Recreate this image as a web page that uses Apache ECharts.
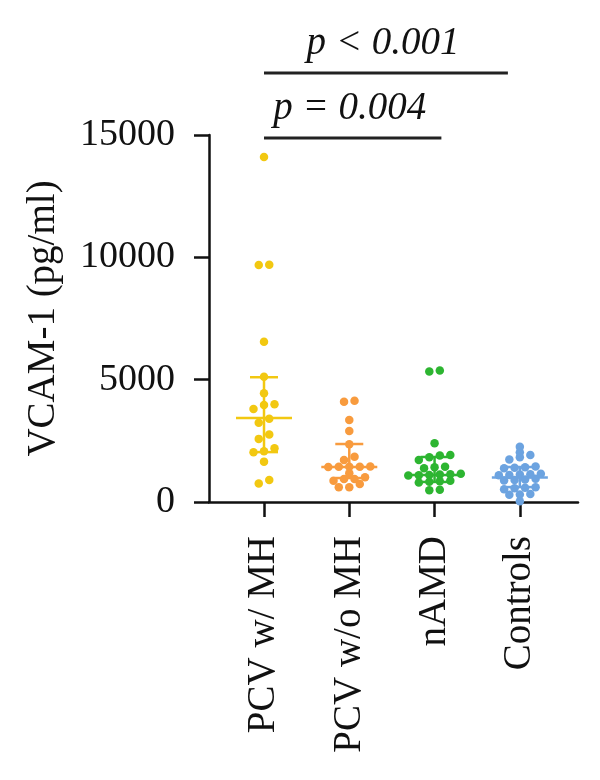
<!DOCTYPE html>
<html>
<head>
<meta charset="utf-8">
<script src="https://cdn.jsdelivr.net/npm/echarts@6/dist/echarts.min.js"></script>
<style>
  html, body { margin: 0; padding: 0; background: #fff; }
  #main { width: 600px; height: 780px; }
</style>
</head>
<body>
<div id="main"></div>
<script>
const groups = ['PCV w/ MH', 'PCV w/o MH', 'nAMD', 'Controls'];
const colors = ['#F2C811', '#F89B3E', '#2DB531', '#6CA3E0'];

// VCAM-1 (pg/ml)
const pcvMH = [14100, 9700, 9690, 6550, 5120, 4440, 4000, 3960, 3800, 3400, 3240,
  2760, 2580, 2200, 2070, 2030, 1650, 900, 760];
const pcvNoMH = [4140, 4100, 3350, 2900, 2360, 1850, 1720, 1450, 1440, 1440, 1430, 1440,
  1170, 1010, 940, 940, 870, 740, 600, 600];
const namd = [5370, 5330, 2400, 1920, 1900, 1830, 1720, 1440, 1420, 1380, 1150, 1130,
  1120, 1100, 1090, 1080, 870, 850, 830, 800, 500, 480];
const controls = [2260, 2030, 1920, 1830, 1740, 1450, 1420, 1400, 1380, 1150, 1130, 1120,
  1100, 1090, 950, 920, 900, 880, 600, 580, 560, 520, 330, 310, 300, 30];

// median and interquartile range
const medians = [3430, 1430, 1100, 1000];
const lowerQ = [2040, 980, 820, 610];
const upperQ = [5100, 2370, 1840, 1430];

const yTicks = [0, 5000, 10000, 15000];

const allGroups = [pcvMH, pcvNoMH, namd, controls];

const FONT = '"Liberation Serif", "Times New Roman", serif';
const gridLeft = 209, gridTop = 135, gridRight = 22, gridBottom = 278;
const xMin = -0.645, xMax = 3.682;
const pxPerCat = (600 - gridLeft - gridRight) / (xMax - xMin);

// Prism-like dot layout: values close together share a row, spread around the centre
function rowLayout(vals, g) {
  const sorted = vals.slice().sort((a, b) => a - b);
  const rows = [];
  sorted.forEach(v => {
    const last = rows[rows.length - 1];
    if (last && v - last[0] <= 200) last.push(v);
    else rows.push([v]);
  });
  const out = [];
  const gap = 10.5 / pxPerCat;
  rows.forEach(r => {
    r.forEach((v, i) => out.push([g + (i - (r.length - 1) / 2) * gap, v]));
  });
  return out;
}

const chart = echarts.init(document.getElementById('main'));

const scatterSeries = allGroups.map((vals, g) => ({
  type: 'scatter',
  name: groups[g],
  symbolSize: 8.5,
  itemStyle: { color: colors[g], opacity: 1 },
  data: rowLayout(vals, g),
  z: 2
}));

const barSeries = {
  type: 'custom',
  z: 3,
  data: groups.map((n, g) => [g, medians[g], lowerQ[g], upperQ[g]]),
  renderItem: function (params, api) {
    const g = api.value(0);
    const col = colors[g];
    const mw = 28 / pxPerCat, cw = 14 / pxPerCat;
    const st = { stroke: col, lineWidth: 2.5 };
    const m1 = api.coord([g - mw, api.value(1)]), m2 = api.coord([g + mw, api.value(1)]);
    const lo = api.coord([g, api.value(2)]), hi = api.coord([g, api.value(3)]);
    const l1 = api.coord([g - cw, api.value(2)]), l2 = api.coord([g + cw, api.value(2)]);
    const h1 = api.coord([g - cw, api.value(3)]), h2 = api.coord([g + cw, api.value(3)]);
    return {
      type: 'group',
      children: [
        { type: 'line', shape: { x1: m1[0], y1: m1[1], x2: m2[0], y2: m2[1] }, style: st },
        { type: 'line', shape: { x1: lo[0], y1: lo[1], x2: hi[0], y2: hi[1] }, style: st },
        { type: 'line', shape: { x1: l1[0], y1: l1[1], x2: l2[0], y2: l2[1] }, style: st },
        { type: 'line', shape: { x1: h1[0], y1: h1[1], x2: h2[0], y2: h2[1] }, style: st }
      ]
    };
  }
};

chart.setOption({
  animation: false,
  backgroundColor: '#fff',
  grid: {
    left: gridLeft, right: gridRight, top: gridTop, bottom: gridBottom,
    containLabel: false, outerBoundsMode: 'none'
  },
  xAxis: {
    type: 'value',
    min: xMin,
    max: xMax,
    splitLine: { show: false },
    axisLine: { onZero: false, lineStyle: { color: '#111', width: 2.5 } },
    axisTick: {
      customValues: [0, 1, 2, 3], length: 15,
      lineStyle: { color: '#111', width: 2.5 }
    },
    axisLabel: {
      customValues: [0, 1, 2, 3],
      rotate: 90,
      margin: 34,
      color: '#111',
      fontFamily: FONT,
      fontSize: 39,
      formatter: v => groups[Math.round(v)]
    }
  },
  yAxis: {
    type: 'value',
    min: 0,
    max: 15000,
    interval: 5000,
    name: 'VCAM-1 (pg/ml)',
    nameLocation: 'middle',
    nameGap: 146,
    nameTextStyle: { color: '#111', fontFamily: FONT, fontSize: 39 },
    splitLine: { show: false },
    axisLine: { show: true, onZero: false, lineStyle: { color: '#111', width: 2.5 } },
    axisTick: { show: true, length: 15, lineStyle: { color: '#111', width: 2.5 } },
    axisLabel: {
      margin: 34,
      color: '#111',
      fontFamily: FONT,
      fontSize: 38,
      customValues: yTicks,
      formatter: v => String(v)
    }
  },
  series: scatterSeries.concat([barSeries])
});

// significance brackets above the plot
const brackets = [
  { from: 0, to: 2.86, y: 73, label: 'p < 0.001' },
  { from: 0, to: 2.08, y: 138, label: 'p = 0.004' }
];
const gfx = [];
brackets.forEach(b => {
  const x1 = chart.convertToPixel({ xAxisIndex: 0 }, b.from);
  const x2 = chart.convertToPixel({ xAxisIndex: 0 }, b.to);
  gfx.push({
    type: 'line',
    shape: { x1: x1, y1: b.y, x2: x2, y2: b.y },
    style: { stroke: '#222', lineWidth: 3 }
  });
  gfx.push({
    type: 'text',
    x: (x1 + x2) / 2 - 3,
    y: b.y - 10,
    style: {
      text: b.label,
      fill: '#111',
      font: 'italic 39px ' + FONT,
      align: 'center',
      verticalAlign: 'bottom'
    }
  });
});
chart.setOption({ graphic: gfx });
</script>
</body>
</html>
